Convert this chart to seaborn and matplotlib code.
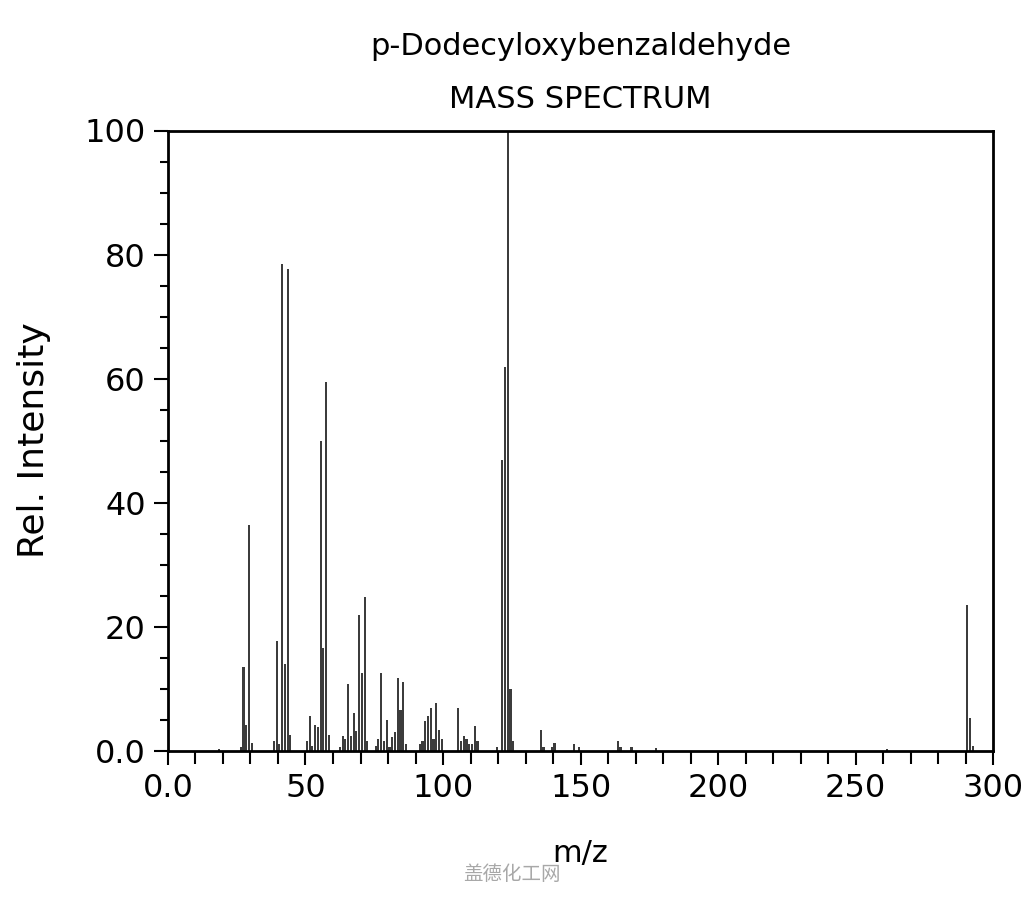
import numpy as np
import pandas as pd
import matplotlib
matplotlib.use("Agg")
import matplotlib.pyplot as plt
import seaborn as sns
from matplotlib.ticker import MultipleLocator, FuncFormatter

# peak list (m/z, relative intensity)
mz = [18, 26, 27, 28, 29, 30, 38, 39, 40, 41, 42, 43, 44,
      50, 51, 52, 53, 54, 55, 56, 57, 58,
      62, 63, 64, 65, 66, 67, 68, 69, 70, 71, 72,
      75, 76, 77, 78, 79, 80, 81, 82, 83, 84, 85, 86,
      91, 92, 93, 94, 95, 96, 97, 98, 99,
      105, 106, 107, 108, 109, 110, 111, 112, 119,
      121, 122, 123, 124, 125, 135, 136, 139, 140, 147, 149,
      163, 164, 168, 177, 261, 290, 291, 292]
intensity = [0.3, 0.5, 13.5, 4.2, 36.4, 1.3, 1.5, 17.6, 1.0, 78.4, 14.0, 77.6, 2.5,
             1.5, 5.5, 0.8, 4.2, 3.8, 50.0, 16.6, 59.5, 2.5,
             0.5, 2.3, 1.8, 10.8, 2.3, 6.0, 3.1, 21.9, 12.5, 24.7, 1.5,
             0.7, 1.8, 12.5, 1.5, 4.9, 0.5, 2.2, 3.0, 11.7, 6.5, 11.1, 1.0,
             1.1, 1.5, 4.7, 5.6, 6.8, 1.8, 7.7, 3.4, 1.8,
             6.8, 1.5, 2.3, 1.8, 1.0, 1.0, 4.0, 1.6, 0.5,
             46.9, 61.8, 100.0, 10.0, 1.5, 3.4, 0.6, 0.5, 1.2, 1.0, 0.5,
             1.5, 0.6, 0.6, 0.4, 0.3, 23.5, 5.3, 0.7]

df = pd.DataFrame({"mz": mz, "intensity": intensity})

sns.set_style("ticks")
plt.rcParams["font.family"] = ["DejaVu Sans"]
plt.rcParams["text.color"] = "black"
plt.rcParams["axes.labelcolor"] = "black"
plt.rcParams["xtick.color"] = "black"
plt.rcParams["ytick.color"] = "black"

fig = plt.figure(figsize=(10.24, 9.0), dpi=100)
ax = fig.add_axes([0.164, 0.166, 0.806, 0.689])

sns.histplot(data=df, x="mz", weights="intensity", binwidth=1, binrange=(0, 300),
             shrink=0.8, color="#3c3c3c", alpha=1, linewidth=0, ax=ax)

ax.set_xlim(0, 300)
ax.set_ylim(0, 100)
ax.xaxis.set_major_locator(MultipleLocator(50))
ax.xaxis.set_minor_locator(MultipleLocator(10))
ax.yaxis.set_major_locator(MultipleLocator(20))
ax.yaxis.set_minor_locator(MultipleLocator(5))
fmt = FuncFormatter(lambda v, p: "0.0" if v == 0 else f"{v:.0f}")
ax.xaxis.set_major_formatter(fmt)
ax.yaxis.set_major_formatter(fmt)

ax.tick_params(axis="both", which="major", direction="out", length=10, width=1.5,
               labelsize=23, pad=6)
ax.tick_params(axis="x", which="minor", direction="out", length=9, width=1.5)
ax.tick_params(axis="y", which="minor", direction="out", length=6, width=1.5)

for side in ["top", "right", "bottom", "left"]:
    ax.spines[side].set_visible(True)
    ax.spines[side].set_linewidth(2)
    ax.spines[side].set_color("black")

ax.set_xlabel("m/z", fontsize=22, labelpad=25)
ax.set_ylabel("Rel. Intensity", fontsize=26, labelpad=24)

ax.text(0.5, 1 + 84 / 620, "p-Dodecyloxybenzaldehyde", transform=ax.transAxes,
        ha="center", va="center", fontsize=22)
ax.text(0.5, 1 + 31 / 620, "MASS SPECTRUM", transform=ax.transAxes,
        ha="center", va="center", fontsize=22)

fig.text(0.5, 1 - 875 / 900, "盖德化工网", ha="center", va="center", fontsize=14,
         color="#a8a8a8", family=["Noto Sans CJK SC", "DejaVu Sans"])

fig.savefig("out.png", dpi=100, facecolor="white")
